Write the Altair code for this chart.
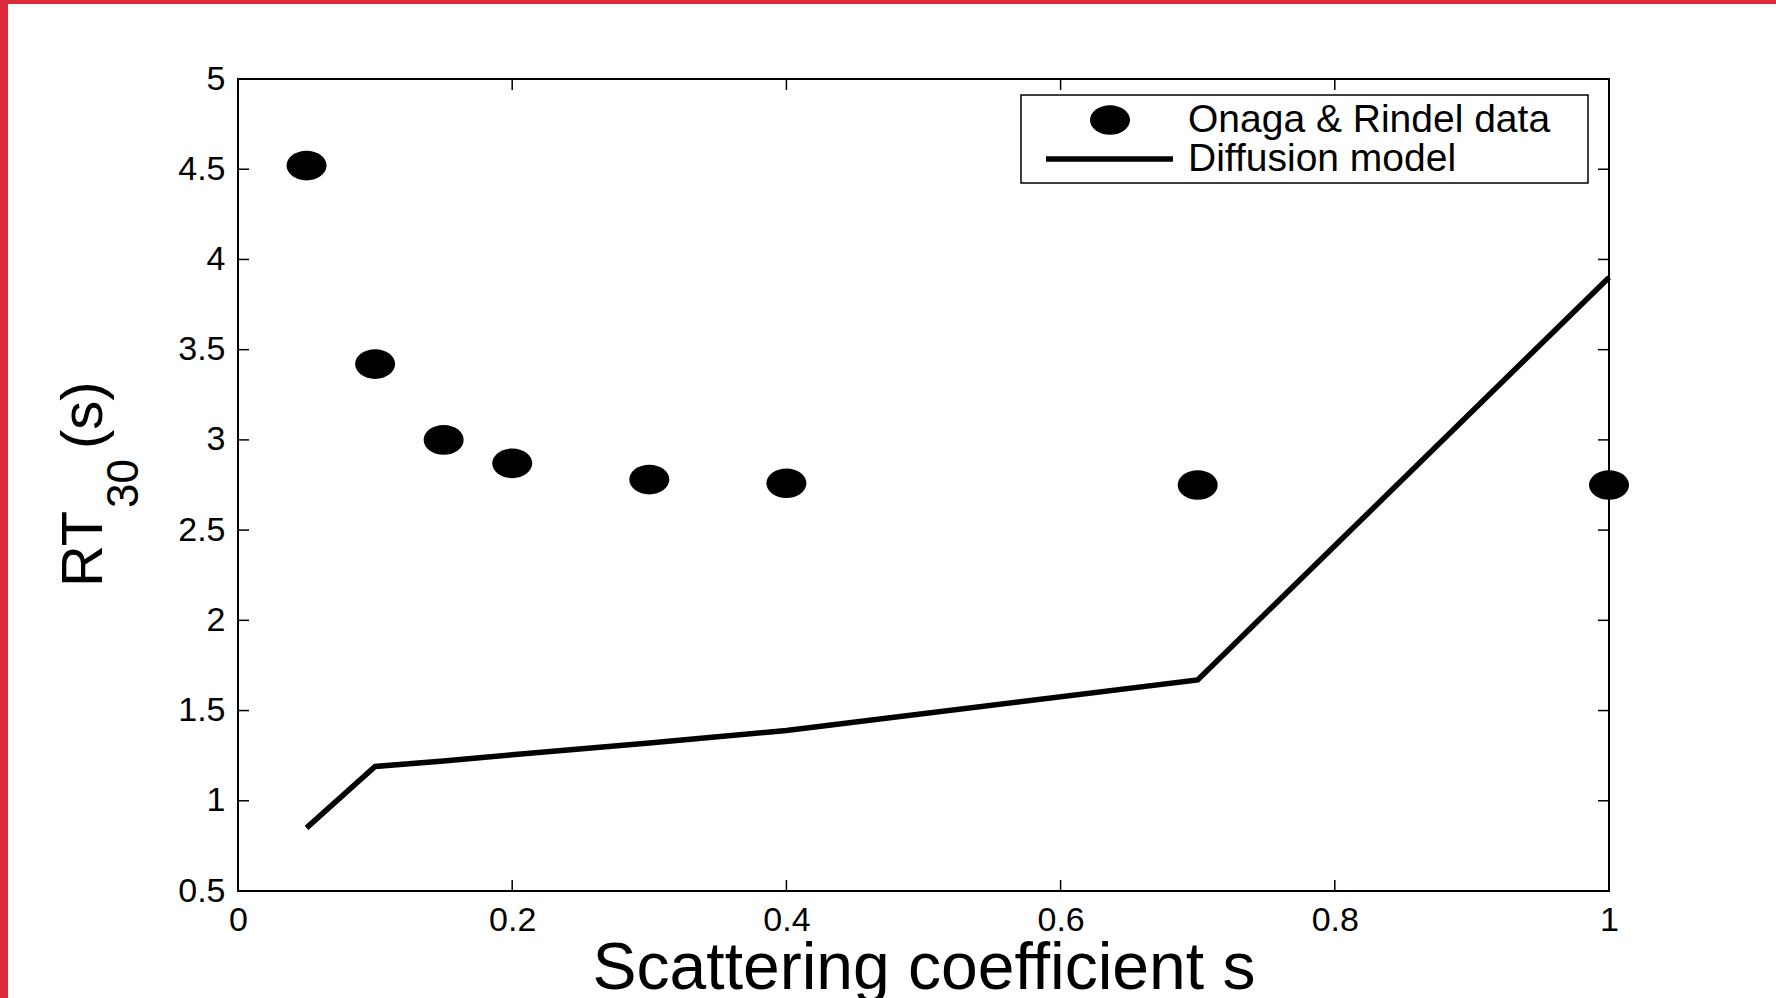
import altair as alt
import pandas as pd

# ---- data ----
s_data = [0.05, 0.1, 0.15, 0.2, 0.3, 0.4, 0.7, 1.0]
rt_data = [4.52, 3.42, 3.00, 2.87, 2.78, 2.76, 2.75, 2.75]
s_model = [0.05, 0.1, 0.15, 0.2, 0.3, 0.4, 0.7, 1.0]
rt_model = [0.85, 1.19, 1.22, 1.255, 1.32, 1.39, 1.67, 3.90]
x_ticks = [0, 0.2, 0.4, 0.6, 0.8, 1.0]
y_ticks = [0.5, 1, 1.5, 2, 2.5, 3, 3.5, 4, 4.5, 5]
legend_labels = ["Onaga & Rindel data", "Diffusion model"]
x_title = "Scattering coefficient s"
y_title_parts = ["RT", "30", "(s)"]

FONT = "Liberation Sans"
W, H = 1371, 812
PAD_L, PAD_T = 238, 79
TICK = 11
ELLIPSE = "M -1 0 A 1 0.74 0 1 0 1 0 A 1 0.74 0 1 0 -1 0 Z"
DOT_SIZE = 1600
RED = "#DC2B3B"
LABEL_SIZE = 34

pts = pd.DataFrame({"s": s_data, "rt": rt_data})
model = pd.DataFrame({"s": s_model, "rt": rt_model})
xt = pd.DataFrame({"s": x_ticks})
yt = pd.DataFrame({"rt": y_ticks})
one = pd.DataFrame({"a": [0]})

xscale = alt.Scale(domain=[0, 1], nice=False, zero=False)
yscale = alt.Scale(domain=[0.5, 5], nice=False, zero=False)

x_axis = alt.Axis(
    values=x_ticks, format="~g", title=x_title, grid=False, ticks=False, domain=False,
    labelFont=FONT, labelFontSize=LABEL_SIZE, labelColor="black", labelPadding=12,
    labelFlush=False, labelOverlap=False,
    titleFont=FONT, titleFontSize=66, titleFontWeight="normal", titleColor="black",
    titleBaseline="alphabetic", titleY=97,
)
y_axis = alt.Axis(
    values=y_ticks, format="~g", title="", grid=False, ticks=False, domain=False,
    labelFont=FONT, labelFontSize=LABEL_SIZE, labelColor="black", labelPadding=13,
    labelFlush=False, labelOverlap=False,
)

X = alt.X("s:Q", scale=xscale, axis=x_axis)
Y = alt.Y("rt:Q", scale=yscale, axis=y_axis)

points = alt.Chart(pts).mark_point(
    shape=ELLIPSE, filled=True, color="black", size=DOT_SIZE, opacity=1, strokeWidth=0
).encode(x=X, y=Y)

line = alt.Chart(model).mark_line(color="black", strokeWidth=5.5).encode(x=X, y=Y)

# inward ticks on all four sides (MATLAB box style)
tick_bottom = alt.Chart(xt).mark_rule(color="black", strokeWidth=1.5).encode(
    x=X, y=alt.value(H), y2=alt.value(H - TICK))
tick_top = alt.Chart(xt).mark_rule(color="black", strokeWidth=1.5).encode(
    x=X, y=alt.value(0), y2=alt.value(TICK))
tick_left = alt.Chart(yt).mark_rule(color="black", strokeWidth=1.5).encode(
    y=Y, x=alt.value(0), x2=alt.value(TICK))
tick_right = alt.Chart(yt).mark_rule(color="black", strokeWidth=1.5).encode(
    y=Y, x=alt.value(W), x2=alt.value(W - TICK))

# y title with subscript, built from rotated text pieces
YT_BIG, YT_SUB = 58, 44
yt_rt = alt.Chart(one).mark_text(
    text=y_title_parts[0], font=FONT, fontSize=YT_BIG, angle=270, align="left",
    baseline="alphabetic", color="black"
).encode(x=alt.value(-136), y=alt.value(508))
yt_sub = alt.Chart(one).mark_text(
    text=y_title_parts[1], font=FONT, fontSize=YT_SUB, angle=270, align="left",
    baseline="alphabetic", color="black"
).encode(x=alt.value(-100), y=alt.value(429))
yt_s = alt.Chart(one).mark_text(
    text=y_title_parts[2], font=FONT, fontSize=YT_BIG, angle=270, align="left",
    baseline="alphabetic", color="black"
).encode(x=alt.value(-136), y=alt.value(370))

# legend box
leg_box = alt.Chart(one).mark_rect(fill="white", stroke="black", strokeWidth=1.5).encode(
    x=alt.value(783), x2=alt.value(1350), y=alt.value(16), y2=alt.value(104))
leg_dot = alt.Chart(one).mark_point(
    shape=ELLIPSE, filled=True, color="black", size=DOT_SIZE, opacity=1, strokeWidth=0
).encode(x=alt.value(872), y=alt.value(41))
leg_line = alt.Chart(one).mark_rule(color="black", strokeWidth=5.5).encode(
    x=alt.value(808), x2=alt.value(935), y=alt.value(80))
leg_t1 = alt.Chart(one).mark_text(
    text=legend_labels[0], font=FONT, fontSize=39, align="left", baseline="middle", color="black"
).encode(x=alt.value(950), y=alt.value(41))
leg_t2 = alt.Chart(one).mark_text(
    text=legend_labels[1], font=FONT, fontSize=39, align="left", baseline="middle", color="black"
).encode(x=alt.value(950), y=alt.value(80))

# red frame strips at the page's left and top edges
red_left = alt.Chart(one).mark_rect(color=RED).encode(
    x=alt.value(-PAD_L), x2=alt.value(-PAD_L + 8), y=alt.value(-PAD_T), y2=alt.value(998 - PAD_T))
red_top = alt.Chart(one).mark_rect(color=RED).encode(
    x=alt.value(-PAD_L), x2=alt.value(1776 - PAD_L), y=alt.value(-PAD_T), y2=alt.value(-PAD_T + 4))

chart = alt.layer(
    points, line, tick_bottom, tick_top, tick_left, tick_right,
    yt_rt, yt_sub, yt_s,
    leg_box, leg_dot, leg_line, leg_t1, leg_t2,
    red_left, red_top,
).properties(
    width=W, height=H,
    autosize=alt.AutoSizeParams(type="none"),
    padding={"left": PAD_L, "top": PAD_T, "right": 1776 - PAD_L - W, "bottom": 998 - PAD_T - H},
    background="white",
).configure_view(stroke="black", strokeWidth=2)

chart.save("out.html", embed_options={"renderer": "svg", "actions": False})
